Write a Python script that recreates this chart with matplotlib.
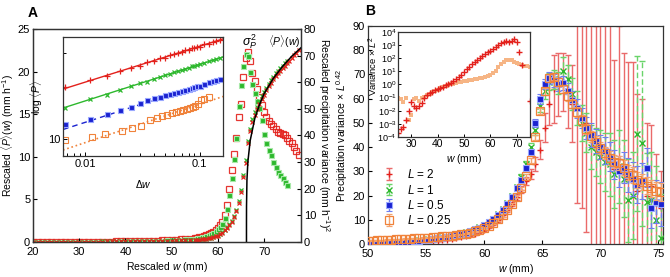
import matplotlib
matplotlib.use('Agg')
import matplotlib.pyplot as plt
from matplotlib.ticker import FixedLocator, NullFormatter, FixedFormatter

plt.rcParams['font.family'] = ['Liberation Sans', 'DejaVu Sans']
plt.rcParams['mathtext.fontset'] = 'custom'
plt.rcParams['mathtext.rm'] = 'Liberation Sans'
plt.rcParams['mathtext.it'] = 'Liberation Sans:italic'
plt.rcParams['mathtext.bf'] = 'Liberation Sans:bold'
plt.rcParams['axes.linewidth'] = 0.9
plt.rcParams['axes.edgecolor'] = '#333333'

RED = '#e3211c'
GREEN = '#2db82d'
BLUE = '#1a22d0'
ORANGE = '#f0823a'

# ---------------- Panel A data ----------------
A_w = [20, 21, 22, 23, 24, 25, 26, 27, 28, 29, 30, 31, 32, 33, 34, 35, 36, 37, 38, 39,
       40, 41, 42, 43, 44, 45, 46, 47, 48, 49, 50, 51, 52, 53, 54, 55,
       55.5, 56, 56.5, 57, 57.5, 58, 58.5, 59, 59.5, 60,
       60.5, 61, 61.5, 62, 62.5, 63, 63.5, 64, 64.5, 65,
       65.5, 66, 66.5, 67, 67.5, 68, 68.5, 69, 69.5, 70,
       70.5, 71, 71.5, 72, 72.5, 73, 73.5, 74, 74.5, 75,
       75.5, 76, 76.5, 77, 77.5]
A_var_red = [0.05, 0.05, 0.05, 0.06, 0.06, 0.07, 0.07, 0.08, 0.08, 0.09, 0.1, 0.1, 0.11, 0.12, 0.13,
             0.14, 0.15, 0.17, 0.19, 0.21, 0.24, 0.27, 0.3, 0.34, 0.38, 0.43, 0.48, 0.55, 0.62, 0.7,
             0.8, 0.9, 1.0, 1.15, 1.3, 1.5,
             1.65, 1.8, 2.0, 2.3, 2.6, 3.0, 3.4, 3.9, 4.5, 5.2,
             6.2, 7.6, 10, 14, 20, 27, 33, 39, 47, 52,
             62, 69, 71.5, 68, 63.5, 60.5, 57.5, 54.5, 51.5, 49,
             47, 45.5, 44.5, 43.5, 42.5, 41.5, 41, 40.5, 40, 39,
             38, 37, 35.5, 34, 32.5]
A_mean_red = [0.02, 0.02, 0.02, 0.02, 0.02, 0.03, 0.03, 0.03, 0.03, 0.03, 0.04, 0.04, 0.04, 0.05, 0.05,
              0.05, 0.06, 0.06, 0.07, 0.07, 0.08, 0.08, 0.09, 0.1, 0.11, 0.12, 0.13, 0.14, 0.15, 0.16,
              0.17, 0.18, 0.19, 0.21, 0.23, 0.25,
              0.26, 0.28, 0.3, 0.34, 0.38, 0.43, 0.49, 0.56, 0.65, 0.75,
              0.9, 1.1, 1.4, 1.7, 2.0, 2.4, 2.9, 3.6, 4.6, 5.9,
              7.6, 9.3, 11.6, 13.0, 14.1, 14.9, 15.6, 16.2, 16.8, 17.3,
              17.8, 18.3, 18.7, 19.1, 19.5, 19.8, 20.1, 20.4, 20.7, 21.0,
              21.3, 21.6, 21.9, 22.2, 22.5]
A_w_g = [20, 21, 22, 23, 24, 25, 26, 27, 28, 29, 30, 31, 32, 33, 34, 35, 36, 37, 38, 39,
         40, 41, 42, 43, 44, 45, 46, 47, 48, 49, 50, 51, 52, 53, 54, 55,
         55.5, 56, 56.5, 57, 57.5, 58, 58.5, 59, 59.5, 60,
         60.5, 61, 61.5, 62, 62.5, 63, 63.5, 64, 64.5, 65,
         65.5, 66, 66.5, 67, 67.5, 68, 68.5, 69, 69.5, 70,
         70.5, 71, 71.5, 72, 72.5, 73, 73.5, 74, 74.5, 75]
A_var_green = [0.04, 0.04, 0.04, 0.05, 0.05, 0.06, 0.06, 0.07, 0.07, 0.08, 0.09, 0.09, 0.1, 0.11, 0.12,
               0.13, 0.14, 0.15, 0.17, 0.19, 0.21, 0.24, 0.27, 0.3, 0.34, 0.38, 0.43, 0.49, 0.55, 0.62,
               0.7, 0.8, 0.9, 1.0, 1.15, 1.3,
               1.45, 1.6, 1.8, 2.0, 2.3, 2.6, 3.0, 3.5, 4.0, 4.7,
               5.6, 6.8, 9, 12.5, 17.5, 24, 31, 39, 51, 59,
               66, 70.5, 70, 64, 59.5, 56, 53, 50.5, 46, 40.5,
               37, 34.5, 32.5, 30, 28, 26.3, 25, 24, 22.5, 21.5]
A_mean_green = [0.02, 0.02, 0.02, 0.02, 0.03, 0.03, 0.03, 0.03, 0.03, 0.04, 0.04, 0.04, 0.05, 0.05, 0.05,
                0.06, 0.06, 0.07, 0.07, 0.08, 0.08, 0.09, 0.1, 0.11, 0.12, 0.13, 0.14, 0.15, 0.16, 0.17,
                0.18, 0.19, 0.2, 0.22, 0.24, 0.26,
                0.27, 0.29, 0.32, 0.36, 0.4, 0.45, 0.51, 0.58, 0.67, 0.77,
                0.95, 1.15, 1.45, 1.75, 2.1, 2.5, 3.0, 3.7, 4.8, 6.1,
                7.9, 9.6, 11.9, 13.3, 14.4, 15.2, 15.9, 16.5, 17.1, 17.6,
                18.1, 18.6, 19.0, 19.4, 19.8, 20.1, 20.4, 20.7, 21.0, 21.3]
fit_w = [66.2, 66.2001, 66.201, 66.21, 66.3, 66.5, 67.0, 68.0, 69.0, 70.0, 72.0, 74.0, 76.0, 78.0]
fit_P = [0.0, 1.38, 2.4, 4.2, 7.25, 9.4, 11.9, 14.5, 16.1, 17.4, 19.2, 20.6, 21.8, 22.8]

# inset A
dw = [0.0066, 0.011, 0.0155, 0.02, 0.025, 0.03, 0.035, 0.04, 0.045, 0.05, 0.055, 0.06, 0.065,
      0.07, 0.075, 0.08, 0.085, 0.09, 0.095, 0.1, 0.11, 0.12, 0.13, 0.14, 0.15]
logP_red = [15.2, 16.1, 16.6, 17.3, 17.8, 18.1, 18.6, 18.8, 19.2, 19.3, 19.7, 19.8, 20.1, 20.2, 20.5,
            20.5, 20.8, 20.9, 21.1, 21.1, 21.5, 21.6, 21.9, 22.1, 22.3]
logP_green = [12.9, 13.8, 14.3, 14.9, 15.3, 15.7, 15.9, 16.3, 16.5, 16.8, 16.9, 17.2, 17.3, 17.5, 17.6,
              17.8, 18.0, 18.0, 18.2, 18.3, 18.5, 18.8, 18.9, 19.1, 19.3]
logP_blue = [11.3, 11.8, 12.2, 12.6, 13.0, 13.4, 13.7, 13.95, 14.1, 14.25, 14.4, 14.5, 14.6, 14.7, 14.85,
             14.95, 15.05, 15.2, 15.3, 15.4, 15.6, 15.8, 16.0, 16.1, 16.3]
dw_orange = [0.0066, 0.0115, 0.015, 0.021, 0.0256, 0.031, 0.037, 0.042, 0.047, 0.052, 0.057, 0.062,
             0.067, 0.072, 0.077, 0.082, 0.087, 0.092, 0.097, 0.102, 0.11, 0.12]
logP_orange = [9.9, 10.15, 10.4, 10.65, 10.95, 11.1, 11.7, 11.85, 12.0, 12.15, 12.3, 12.4, 12.5, 12.6,
               12.75, 12.85, 12.95, 13.1, 13.3, 13.75, 13.85, 14.0]
fit_dw = [0.0064, 0.16]
fit_red = [14.97, 22.45]
fit_green = [12.85, 19.4]
fit_blue = [10.8, 16.4]
fit_orange = [9.15, 14.1]

# ---------------- Panel B data ----------------
B_w = [50.0, 50.4, 50.8, 51.2, 51.6, 52.0, 52.4, 52.8, 53.2, 53.6,
       54.0, 54.4, 54.8, 55.2, 55.6, 56.0, 56.4, 56.8, 57.2, 57.6,
       58.0, 58.4, 58.8, 59.2, 59.6, 60.0, 60.4, 60.8, 61.2, 61.6,
       62.0, 62.4, 62.8, 63.2, 63.6, 64.0, 64.4, 64.8, 65.2, 65.6,
       66.0, 66.4, 66.8, 67.2, 67.6, 68.0, 68.4, 68.8, 69.2, 69.6,
       70.0, 70.4, 70.8, 71.2, 71.6, 72.0, 72.4, 72.8, 73.2, 73.6,
       74.0, 74.4, 74.8, 75.2]
var_L2 = [0.1, 0.15, 0.2, 0.25, 0.3, 0.35, 0.4, 0.45, 0.5, 0.6,
          0.7, 0.8, 0.9, 1.0, 1.2, 1.4, 1.6, 1.8, 2.1, 2.4,
          2.8, 3.2, 3.7, 4.3, 5.0, 5.9, 7.0, 8.3, 9.9, 11.8,
          14.0, 16.5, 19.5, 22.5, 26.0, 29.0, 33.0, 39.0, 48.0, 58.0,
          64.0, 66.0, 67.0, 63.0, 58.0, 57.0, 53.0, 50.0, 44.0, 40.0,
          38.0, 36.0, 34.0, 31.0, 35.0, 29.0, 27.0, 30.0, 22.0, 25.0,
          20.0, 24.0, 17.0, 15.0]
err_L2 = [0.1, 0.1, 0.1, 0.1, 0.1, 0.1, 0.1, 0.1, 0.1, 0.1,
          0.1, 0.1, 0.2, 0.2, 0.2, 0.2, 0.2, 0.3, 0.3, 0.3,
          0.3, 0.4, 0.4, 0.4, 0.5, 0.5, 0.6, 0.6, 0.7, 0.8,
          0.9, 1.0, 1.2, 1.4, 1.6, 2.0, 3.0, 4.0, 6.0, 9.0,
          14.0, 13.0, 12.0, 15.0, 16.0, 40.0, 38.0, 45.0, 60.0, 50.0,
          55.0, 60.0, 58.0, 45.0, 55.0, 50.0, 48.0, 45.0, 40.0, 35.0,
          30.0, 25.0, 20.0, 15.0]
var_L1 = [0.4, 0.45, 0.5, 0.55, 0.6, 0.7, 0.8, 0.9, 1.0, 1.1,
          1.3, 1.5, 1.7, 1.9, 2.1, 2.4, 2.7, 3.0, 3.4, 3.8,
          4.3, 4.8, 5.4, 6.1, 6.9, 7.9, 9.1, 10.5, 12.2, 14.3,
          16.8, 19.8, 23.4, 27.5, 33.0, 40.0, 47.0, 57.0, 63.0, 67.0,
          68.0, 66.5, 71.5, 68.0, 62.0, 56.0, 50.0, 46.0, 40.0, 38.0,
          36.0, 34.0, 33.0, 29.0, 32.0, 27.0, 18.0, 20.0, 45.5, 41.5,
          17.5, 18.0, 10.0, 2.5]
err_L1 = [0.1, 0.1, 0.1, 0.1, 0.1, 0.1, 0.1, 0.1, 0.1, 0.1,
          0.1, 0.2, 0.2, 0.2, 0.2, 0.2, 0.3, 0.3, 0.3, 0.3,
          0.4, 0.4, 0.4, 0.5, 0.5, 0.5, 0.6, 0.6, 0.7, 0.7,
          0.8, 0.9, 1.0, 1.2, 1.4, 1.7, 2.0, 2.5, 3.0, 3.5,
          4.0, 4.5, 5.5, 6.0, 6.5, 7.0, 7.5, 8.0, 9.0, 10.0,
          11.0, 12.0, 13.0, 14.0, 15.0, 16.0, 17.0, 18.0, 32.0, 34.0,
          20.0, 20.0, 22.0, 18.0]
var_L05 = [0.3, 0.35, 0.4, 0.45, 0.5, 0.6, 0.7, 0.8, 0.9, 1.0,
           1.2, 1.4, 1.6, 1.8, 2.0, 2.3, 2.6, 2.9, 3.3, 3.7,
           4.2, 4.7, 5.3, 6.0, 6.8, 7.8, 9.0, 10.4, 12.0, 14.0,
           16.5, 19.5, 23.0, 26.5, 31.5, 38.0, 50.0, 60.0, 66.0, 68.5,
           67.5, 66.0, 66.5, 63.0, 59.5, 56.0, 52.0, 48.0, 45.0, 42.5,
           40.0, 38.5, 36.0, 33.0, 30.0, 31.5, 28.5, 27.0, 24.5, 26.0,
           31.5, 15.0, 17.5, 16.5]
err_L05 = [0.1, 0.1, 0.1, 0.1, 0.1, 0.1, 0.1, 0.1, 0.1, 0.1,
           0.1, 0.1, 0.2, 0.2, 0.2, 0.2, 0.2, 0.2, 0.3, 0.3,
           0.3, 0.3, 0.3, 0.4, 0.4, 0.4, 0.5, 0.5, 0.5, 0.6,
           0.6, 0.7, 0.8, 0.9, 1.0, 1.2, 1.5, 2.0, 2.0, 2.5,
           2.5, 3.0, 3.0, 3.5, 3.5, 4.0, 4.0, 4.5, 5.0, 5.0,
           5.0, 5.5, 6.0, 6.0, 6.5, 6.5, 7.0, 7.0, 7.5, 7.5,
           8.0, 8.5, 9.0, 9.0]
var_L025 = [1.3, 1.4, 1.5, 1.6, 1.7, 1.8, 1.9, 2.0, 2.1, 2.2,
            2.3, 2.4, 2.5, 2.6, 2.8, 2.9, 3.1, 3.3, 3.5, 3.7,
            4.0, 4.3, 4.7, 5.2, 5.8, 6.6, 7.6, 8.8, 10.2, 11.8,
            14.0, 16.5, 19.5, 23.0, 28.0, 34.5, 44.0, 55.0, 63.0, 68.5,
            69.0, 67.0, 64.0, 61.0, 58.0, 54.5, 51.0, 47.5, 44.5, 42.0,
            39.5, 37.5, 35.5, 34.0, 33.5, 31.5, 29.5, 28.5, 26.5, 25.5,
            24.0, 23.0, 22.0, 21.5]
err_L025 = [0.2, 0.2, 0.2, 0.2, 0.2, 0.2, 0.2, 0.2, 0.2, 0.2,
            0.2, 0.2, 0.2, 0.2, 0.2, 0.2, 0.3, 0.3, 0.3, 0.3,
            0.3, 0.3, 0.3, 0.3, 0.4, 0.4, 0.4, 0.4, 0.5, 0.5,
            0.5, 0.6, 0.6, 0.7, 0.8, 0.9, 1.0, 1.2, 1.4, 1.5,
            1.5, 1.6, 1.7, 1.8, 1.9, 2.0, 2.1, 2.2, 2.3, 2.4,
            2.5, 2.6, 2.7, 2.8, 2.9, 3.0, 3.1, 3.2, 3.3, 3.4,
            3.5, 3.6, 3.7, 3.8]

# inset B
Bi_w_red = [25, 26, 27, 28, 29, 30, 31, 32, 33, 34, 35, 36, 37, 38, 39, 40, 41, 42, 43, 44,
            45, 46, 47, 48, 49, 50, 51, 52, 53, 54, 55, 56, 57, 58, 59, 60, 61, 62, 63, 64,
            65, 66, 67, 68, 69, 70, 71, 72, 75]
Bi_var_red = [2.0e-4, 4.0e-4, 6.3e-4, 2.0e-3, 1.0e-2, 5.0e-2, 2.5e-2, 1.6e-2, 2.5e-2, 4.0e-2,
              0.1, 0.16, 0.22, 0.28, 0.35, 0.45, 0.56, 0.7, 0.9, 1.0,
              1.26, 1.8, 2.5, 3.5, 5.6, 8.9, 14, 22, 35, 56,
              79, 112, 158, 224, 282, 355, 500, 708, 1000, 1400,
              1780, 2000, 1780, 2240, 2800, 1600, 320, 30, 0.06]
Bi_w_orange = [25, 26, 27, 28, 29, 30, 31, 32, 33, 34, 35, 36, 37, 38, 39, 40, 41, 42, 43, 44,
               45, 46, 47, 48, 49, 50, 51, 52, 53, 54, 55, 56, 57, 58, 59, 60, 61, 62, 63, 64,
               65, 66, 67, 68, 69, 70, 71, 72, 73, 74, 75]
Bi_var_orange = [0.1, 0.08, 0.05, 0.1, 2e-3, 5e-3, 0.08, 0.1, 0.06, 0.1,
                 0.12, 0.15, 0.2, 0.25, 0.32, 0.4, 0.5, 0.6, 0.72, 0.85,
                 1.0, 1.15, 1.3, 1.45, 1.6, 1.8, 2.0, 2.2, 2.4, 2.6,
                 2.8, 3.0, 3.3, 3.7, 4.3, 5.2, 7, 11, 20, 38,
                 55, 70, 76, 68, 52, 45, 38, 32, 26, 24,
                 22]

# ---------------- Figure ----------------
fig = plt.figure(figsize=(6.7, 2.77), dpi=100)
W, H = 670.0, 277.0


def rect(x0, y0, x1, y1):
    return [x0 / W, 1 - y1 / H, (x1 - x0) / W, (y1 - y0) / H]


FS = 8
LFS = 7.5
IFS = 6.5

# Panel A main
axA = fig.add_axes(rect(33, 29, 301, 242))
axA2 = axA.twinx()
axA.set_zorder(axA2.get_zorder() + 1)
axA.patch.set_visible(False)
axA.set_xlim(20, 78)
axA.set_ylim(0, 25)
axA2.set_ylim(0, 80)

axA2.plot(A_w, A_var_red, 's', mfc='none', mec=RED, ms=4.5, mew=0.9, alpha=0.9)
axA2.plot(A_w_g, A_var_green, 's', mfc=GREEN, mec='#a8e8a8', ms=3.6, mew=0.8)
axA.plot(A_w_g, A_mean_green, 'x', color=GREEN, ms=3.2, mew=0.9)
axA.plot(A_w, A_mean_red, 'x', color=RED, ms=3.2, mew=0.9)
axA.plot(fit_w, fit_P, '-', color='black', lw=1.1)

axA.set_xticks([20, 30, 40, 50, 60, 70])
axA.set_yticks([0, 5, 10, 15, 20, 25])
axA2.set_yticks([0, 10, 20, 30, 40, 50, 60, 70, 80])
for a in (axA, axA2):
    a.tick_params(direction='in', length=3, labelsize=FS, width=0.8, pad=2)
axA.tick_params(axis='x', pad=3.5)
axA.set_xlabel('Rescaled $w$ (mm)', fontsize=LFS, labelpad=2)
axA.set_ylabel(r'Rescaled $\langle P\rangle(w)$ (mm h$^{-1}$)', fontsize=LFS, labelpad=1)
axA2.set_ylabel(r'Rescaled precipitation variance (mm h$^{-1}$)$^2$', fontsize=LFS,
                rotation=270, labelpad=11)

fig.text(250 / W, 1 - 42 / H, r'$\sigma_P^2$', fontsize=FS + 1, ha='center', va='center')
fig.text(284 / W, 1 - 42 / H, r'$\langle P\rangle(w)$', fontsize=LFS, ha='center', va='center')

# Inset A
axi = fig.add_axes(rect(63, 37, 223, 156))
axi.set_zorder(10)
axi.set_xscale('log')
axi.set_yscale('log')
axi.set_xlim(0.0064, 0.16)
axi.set_ylim(8.72, 22.8)
axi.plot(fit_dw, fit_red, '-', color=RED, lw=1)
axi.plot(fit_dw, fit_green, '-', color=GREEN, lw=1)
axi.plot(fit_dw, fit_blue, '--', color=BLUE, lw=1, dashes=(4, 3))
axi.plot(fit_dw, fit_orange, ':', color=ORANGE, lw=1.2)
axi.plot(dw, logP_red, '+', color=RED, ms=4, mew=0.9)
axi.plot(dw, logP_green, 'x', color=GREEN, ms=3.5, mew=0.9)
axi.plot(dw, logP_blue, 's', mfc=BLUE, mec='#9aa8ff', ms=3.6, mew=0.8)
axi.plot(dw_orange, logP_orange, 's', mfc='none', mec=ORANGE, ms=4.2, mew=0.8)
axi.yaxis.set_major_locator(FixedLocator([10]))
axi.yaxis.set_major_formatter(FixedFormatter(['10']))
axi.yaxis.set_minor_locator(FixedLocator([20]))
axi.yaxis.set_minor_formatter(NullFormatter())
axi.xaxis.set_major_locator(FixedLocator([0.01, 0.1]))
axi.xaxis.set_major_formatter(FixedFormatter(['0.01', '0.1']))
axi.tick_params(which='both', direction='in', labelsize=FS, width=0.7, pad=2)
axi.tick_params(which='major', length=3)
axi.tick_params(which='minor', length=2)
axi.set_xlabel(r'$\Delta w$', fontsize=LFS, labelpad=7)
axi.set_ylabel(r'log $\langle P\rangle$', fontsize=LFS, labelpad=2)

# Panel B main
axB = fig.add_axes(rect(368, 26, 663, 244))
axB.set_xlim(50, 75.4)
axB.set_ylim(0, 90)

eb = axB.errorbar(B_w, var_L2, yerr=err_L2, fmt='+', color=RED, ecolor='#ea6a6a', ms=5, mew=1,
                  elinewidth=1, capsize=2, capthick=1, label='$L$ = 2', zorder=2)
eb = axB.errorbar(B_w, var_L1, yerr=err_L1, fmt='x', color=GREEN, ecolor='#6ad46a', ms=4.5, mew=1,
                  elinewidth=1, capsize=2, capthick=1, label='$L$ = 1', zorder=3)
eb[2][0].set_linestyle((0, (4, 2)))
eb = axB.errorbar(B_w, var_L05, yerr=err_L05, fmt='s', mfc=BLUE, mec='#9aa8ff', color=BLUE,
                  ecolor='#6f7ff0', ms=3.8, mew=0.8, elinewidth=1, capsize=2, capthick=1,
                  label='$L$ = 0.5', zorder=4)
eb[2][0].set_linestyle((0, (4, 2)))
eb = axB.errorbar(B_w, var_L025, yerr=err_L025, fmt='s', mfc='none', mec=ORANGE, color=ORANGE,
                  ecolor='#f4a46e', ms=5.5, mew=0.9, elinewidth=1, capsize=2, capthick=1,
                  label='$L$ = 0.25', zorder=5)

axB.set_xticks([50, 55, 60, 65, 70, 75])
axB.set_yticks([0, 10, 20, 30, 40, 50, 60, 70, 80, 90])
axB.tick_params(direction='in', length=3, labelsize=FS, width=0.8, pad=2)
axB.tick_params(axis='x', pad=3.5)
axB.set_xlabel('$w$ (mm)', fontsize=LFS, labelpad=2)
axB.set_ylabel(r'Precipitation variance $\times$ $L^{0.42}$', fontsize=LFS, labelpad=2)
leg = axB.legend(loc='upper left', bbox_to_anchor=(0.0, 0.385), frameon=False, fontsize=8.5,
                 handlelength=2.2, handletextpad=0.4, labelspacing=0.2, borderaxespad=0.3)

# Inset B
axBi = fig.add_axes(rect(398, 32, 530, 137))
axBi.set_zorder(10)
axBi.set_yscale('log')
axBi.set_xlim(25, 75)
axBi.set_ylim(1e-4, 1e4)
axBi.plot(Bi_w_orange, Bi_var_orange, 's', color='#f6b585', mfc='#f6b585', ms=2.4, mew=0)
axBi.plot(Bi_w_red, Bi_var_red, '+', color=RED, ms=4, mew=1)
axBi.set_xticks([30, 40, 50, 60, 70])
axBi.yaxis.set_major_locator(FixedLocator([1e-4, 1e-3, 1e-2, 1e-1, 1, 10, 100, 1e3, 1e4]))
axBi.yaxis.set_major_formatter(FixedFormatter(['$10^{-4}$', '$10^{-3}$', '$10^{-2}$', '$10^{-1}$',
                                               '$10^{0}$', '$10^{1}$', '$10^{2}$', '$10^{3}$',
                                               '$10^{4}$']))
axBi.yaxis.set_minor_locator(FixedLocator([]))
axBi.tick_params(axis='y', direction='in', length=2.5, labelsize=IFS, width=0.7, pad=1)
axBi.tick_params(axis='x', direction='in', length=2.5, labelsize=7.5, width=0.7, pad=1.5)
axBi.set_xlabel('$w$ (mm)', fontsize=LFS, labelpad=2)
fig.text(373.5 / W, 1 - 66 / H, r'Variance $\times$ $L^2$', fontsize=6.8, rotation=90,
         ha='center', va='center', zorder=20)

fig.text(33 / W, 1 - 13 / H, 'A', fontsize=10, fontweight='bold', ha='center', va='center')
fig.text(370 / W, 1 - 11 / H, 'B', fontsize=10, fontweight='bold', ha='center', va='center')

fig.savefig('out.png', dpi=100)
